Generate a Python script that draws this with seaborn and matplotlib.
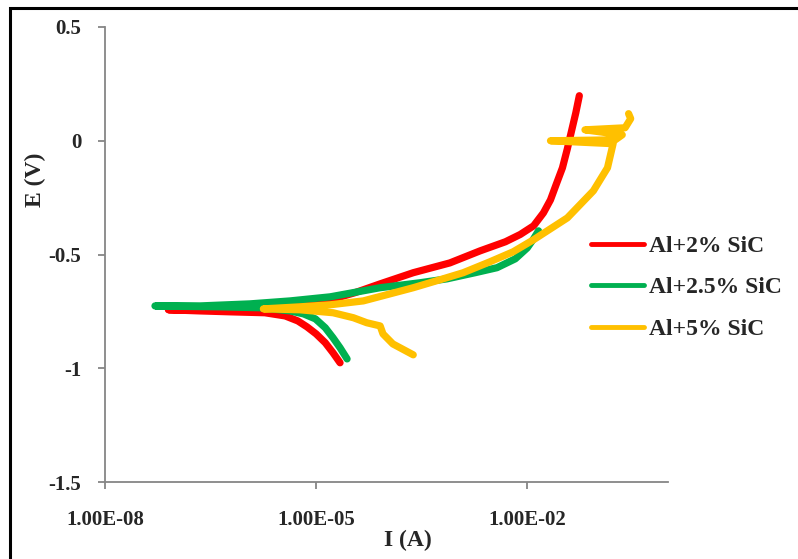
import numpy as np
import pandas as pd
import matplotlib
matplotlib.use("Agg")
import matplotlib.pyplot as plt
import seaborn as sns
from matplotlib.ticker import FixedLocator, FuncFormatter, NullLocator
from matplotlib.patches import Rectangle

# Tafel curves: log10 of current (A) and potential (V)
al2_log_i = [-4.66, -4.76, -4.87, -5.00, -5.13, -5.26, -5.44, -5.73, -6.22, -6.65, -7.10,
             -6.65, -6.08, -5.51, -4.94, -4.45, -4.09, -3.62, -3.10, -2.67, -2.31, -2.10,
             -1.91, -1.77, -1.67, -1.59, -1.50, -1.43, -1.37, -1.31, -1.26]
al2_e = [-0.976, -0.932, -0.888, -0.849, -0.818, -0.792, -0.770, -0.756, -0.752, -0.748, -0.743,
         -0.743, -0.739, -0.730, -0.712, -0.668, -0.629, -0.580, -0.537, -0.484, -0.444, -0.412,
         -0.374, -0.317, -0.260, -0.193, -0.119, -0.035, 0.044, 0.123, 0.198]

al25_log_i = [-4.56, -4.66, -4.76, -4.87, -5.01, -5.18, -5.37, -5.80, -6.37, -6.93, -7.29,
              -6.65, -5.94, -5.37, -4.80, -4.09, -3.52, -3.14, -2.74, -2.43, -2.17, -2.00,
              -1.91, -1.84]
al25_e = [-0.959, -0.910, -0.866, -0.822, -0.783, -0.761, -0.748, -0.734, -0.730, -0.728, -0.726,
          -0.726, -0.717, -0.704, -0.686, -0.646, -0.624, -0.607, -0.580, -0.558, -0.519, -0.471,
          -0.431, -0.396]

al5_log_i = [-3.62, -3.91, -4.05, -4.09, -4.28, -4.47, -4.76, -5.23, -5.75,
             -5.23, -4.80, -4.33, -3.95, -3.62, -3.24, -2.91, -2.53, -2.20, -1.91, -1.43,
             -1.06, -0.86, -0.78, -1.67, -0.75, -0.65, -1.18, -0.61, -0.53, -0.56]
al5_e = [-0.941, -0.893, -0.849, -0.814, -0.800, -0.778, -0.756, -0.743, -0.739,
         -0.730, -0.721, -0.704, -0.673, -0.646, -0.611, -0.580, -0.532, -0.488, -0.435, -0.339,
         -0.220, -0.119, -0.013, 0.000, 0.004, 0.026, 0.048, 0.057, 0.097, 0.119]

labels = ["Al+2% SiC", "Al+2.5% SiC", "Al+5% SiC"]
colors = ["#FF0000", "#00B050", "#FFC000"]

frames = []
for lab, li, e in zip(labels, [al2_log_i, al25_log_i, al5_log_i], [al2_e, al25_e, al5_e]):
    frames.append(pd.DataFrame({"I": 10 ** np.array(li), "E": e, "alloy": lab,
                                "step": range(len(e))}))
df = pd.concat(frames, ignore_index=True)

sns.set_theme(style="white")
plt.rcParams["font.family"] = ["Liberation Serif", "DejaVu Serif"]
plt.rcParams["font.weight"] = "bold"
plt.rcParams["axes.unicode_minus"] = False

fig = plt.figure(figsize=(7.98, 5.59), dpi=100)
ax = fig.add_axes([105 / 798, 77 / 559, 563 / 798, 455 / 559])

sns.lineplot(data=df, x="I", y="E", hue="alloy", palette=colors, sort=False,
             estimator=None, linewidth=5.2, solid_capstyle="round", ax=ax, legend=False)
for ln in ax.get_lines():
    ln.set_solid_joinstyle("round")

ax.set_xscale("log")
ax.set_xlim(1e-8, 1)
ax.set_ylim(-1.5, 0.5)
ax.xaxis.set_major_locator(FixedLocator([1e-8, 1e-5, 1e-2]))
ax.xaxis.set_minor_locator(NullLocator())
ax.xaxis.set_major_formatter(FuncFormatter(lambda v, p: f"{v:.2E}"))
ax.set_yticks([-1.5, -1, -0.5, 0, 0.5])
ax.set_yticklabels(["-1.5", "-1", "-0.5", "0", "0.5"])
ax.set_xlabel("")
ax.set_ylabel("")

for s in ["top", "right"]:
    ax.spines[s].set_visible(False)
for s in ["left", "bottom"]:
    ax.spines[s].set_color("#868686")
    ax.spines[s].set_linewidth(1.3)
ax.tick_params(axis="both", which="major", direction="out", length=5, width=1.3,
               color="#868686", labelsize=15, left=True, bottom=True)
ax.tick_params(axis="x", pad=15)
ax.tick_params(axis="y", pad=12)
for t in ax.get_xticklabels() + ax.get_yticklabels():
    t.set_fontweight("bold")

fig.text(408 / 798, 1 - 540 / 559, "I (A)", ha="center", va="center",
         fontsize=17, fontweight="bold")
fig.text(35 / 798, 1 - 180 / 559, "E (V)", ha="center", va="center",
         fontsize=17, fontweight="bold", rotation=90)

handles = [plt.Line2D([], [], color=c, lw=3.5) for c in colors]
fig.legend(handles, labels, loc="upper left", bbox_to_anchor=(570 / 798, 1 - 214 / 559),
           frameon=False, prop={"size": 17, "weight": "bold"}, handlelength=2.25,
           handletextpad=0.2, labelspacing=0.85)

fig.add_artist(Rectangle((10 / 798, -0.1), 1.2, 1.1 - 8 / 559, transform=fig.transFigure,
                         fill=False, edgecolor="black", linewidth=2.2))

fig.savefig("out.png", dpi=100, facecolor="white")
